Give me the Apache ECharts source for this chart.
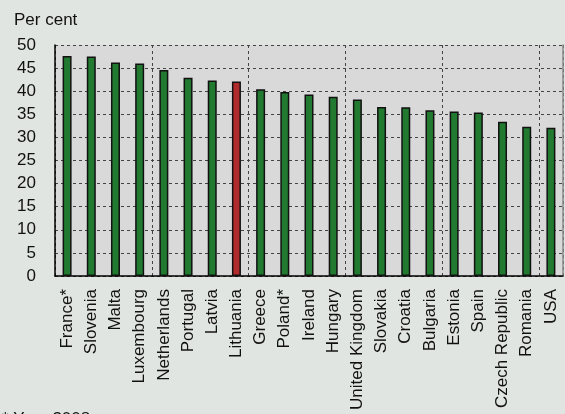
<!DOCTYPE html>
<html>
<head>
<meta charset="utf-8">
<script src="https://cdn.jsdelivr.net/npm/echarts@6/dist/echarts.min.js"></script>
<style>
html,body{margin:0;padding:0;background:#e1e5e1;}
#c{width:565px;height:414px;}
</style>
</head>
<body>
<div id="c"></div>
<script>
var categories = ["France*","Slovenia","Malta","Luxembourg","Netherlands","Portugal","Latvia","Lithuania","Greece","Poland*","Ireland","Hungary","United Kingdom","Slovakia","Croatia","Bulgaria","Estonia","Spain","Czech Republic","Romania","USA"];
var values = [47.6,47.5,46.2,46.0,44.6,42.9,42.3,42.1,40.4,39.8,39.3,38.8,38.2,36.6,36.5,35.9,35.6,35.4,33.4,32.3,32.1];
var highlight = "Lithuania";
var yTicks = {min:0, max:50, interval:5};
var unitLabel = "Per cent";
var footnote = "* Year 2008";

var chart = echarts.init(document.getElementById('c'), null, {renderer:'canvas'});
var font = "'Liberation Sans', Arial, sans-serif";
var dash = {color:'#444', width:1, type:[3,3]};
chart.setOption({
  backgroundColor:'#e1e5e1',
  animation:false,
  title:{text:unitLabel, left:14, top:12, padding:0, textStyle:{fontFamily:font, fontSize:17, fontWeight:'normal', color:'#111'}},
  graphic:[{type:'text', left:2, top:411, style:{text:footnote, font:"17px 'Liberation Sans', Arial, sans-serif", fill:'#111'}}],
  grid:{left:55, right:2, top:45, bottom:138, show:true, backgroundColor:'#d9d9d9', borderWidth:0},
  xAxis:{type:'category', data:categories,
    axisLine:{lineStyle:{color:'#000', width:1.5}},
    axisTick:{interval:1, length:6, lineStyle:{color:'#555'}},
    splitLine:{show:true, interval:3, lineStyle:dash},
    axisLabel:{interval:0, rotate:90, fontFamily:font, fontSize:17, color:'#111', margin:13}
  },
  yAxis:[{type:'value', min:yTicks.min, max:yTicks.max, interval:yTicks.interval,
    axisLine:{show:true, lineStyle:{color:'#000', width:1.5}},
    axisTick:{show:false},
    splitLine:{lineStyle:dash},
    axisLabel:{fontFamily:font, fontSize:17, color:'#111', margin:19}
  },{type:'value', position:'right', min:yTicks.min, max:yTicks.max, interval:yTicks.interval,
    axisLine:{show:true, lineStyle:{color:'#888', width:1.5}},
    axisTick:{show:false}, axisLabel:{show:false}, splitLine:{show:false}}],
  series:[{type:'bar', barWidth:9,
    data:values.map(function(v,i){
      return {value:v, itemStyle:{color: categories[i]===highlight ? '#b02b2b' : '#217a30'}};
    }),
    itemStyle:{borderColor:'#111', borderWidth:1.5}
  }]
});
</script>
</body>
</html>
